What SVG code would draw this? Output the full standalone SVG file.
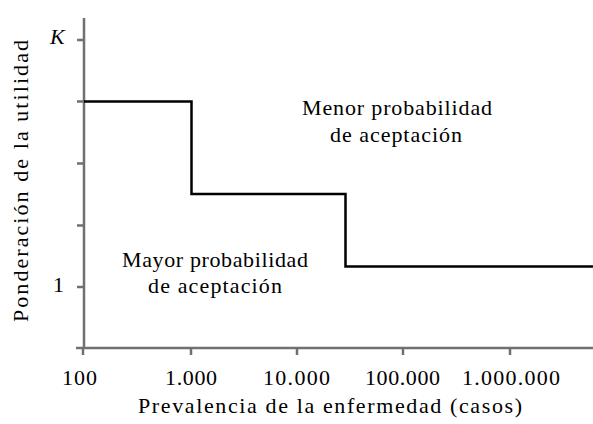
<svg xmlns="http://www.w3.org/2000/svg" width="593" height="424" viewBox="0 0 593 424">
<style>
text{font-family:"Liberation Serif","DejaVu Serif",serif;fill:#000;font-size:22px}
.ax{stroke:#707070;stroke-width:2.5;fill:none}
.st{stroke:#000;stroke-width:2.5;fill:none}
</style>
<rect width="593" height="424" fill="#fff"/>
<g id="axes">
<path class="ax" d="M84,18 V348 M76,348 H593"/>
<path class="ax" d="M77,40 H84 M77,101.5 H84 M77,163.5 H84 M77,225.5 H84 M77,287 H84"/>
<path class="ax" d="M83,348 V355 M191,348 V355 M297,348 V355 M403,348 V355 M510,348 V355"/>
</g>
<g id="ticklabels">
<text x="62" y="385" textLength="35">100</text>
<text x="165" y="385" textLength="52">1.000</text>
<text x="263" y="385" textLength="67">10.000</text>
<text x="365" y="385" textLength="75">100.000</text>
<text x="462" y="385" textLength="98">1.000.000</text>
<text x="50" y="44" font-style="italic">K</text>
<text x="53" y="292">1</text>
</g>
<g id="connectors">
<path class="st" d="M84,101.5 H191.5 V194 H345.5 V266.5 H593"/>
</g>
<g id="labels">
<text x="302" y="115" textLength="190">Menor probabilidad</text>
<text x="330" y="142" textLength="132">de aceptación</text>
<text x="122" y="267" textLength="186">Mayor probabilidad</text>
<text x="148" y="293" textLength="134">de aceptación</text>
<text x="138" y="413" textLength="384">Prevalencia de la enfermedad (casos)</text>
<text transform="translate(28,322) rotate(-90)" textLength="282">Ponderación de la utilidad</text>
</g>
</svg>
